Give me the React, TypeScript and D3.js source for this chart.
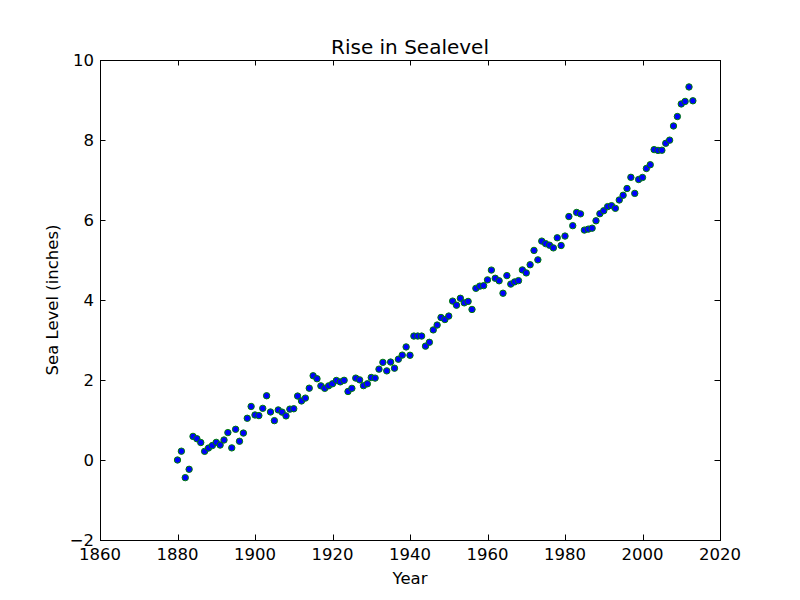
import React, { useEffect, useRef } from 'react';
import * as d3 from 'd3';

// CSIRO adjusted sea level, 1880-2013
const years = d3.range(1880, 2014);
const seaLevel = [
  0.0, 0.220472, -0.440945, -0.232283, 0.590551, 0.531496, 0.437008, 0.216535, 0.299213, 0.362205,
  0.440945, 0.374016, 0.5, 0.685039, 0.30315, 0.767717, 0.468504, 0.673228, 1.043307, 1.338583,
  1.125984, 1.110236, 1.291339, 1.606299, 1.200787, 0.984252, 1.251969, 1.19685, 1.102362, 1.271654,
  1.281496, 1.598425, 1.476378, 1.547244, 1.795276, 2.106299, 2.031496, 1.854331, 1.791339, 1.854331,
  1.905512, 1.988189, 1.952756, 1.992126, 1.712598, 1.791339, 2.047244, 2.003937, 1.858268, 1.905512,
  2.062992, 2.047244, 2.271654, 2.440945, 2.228346, 2.448819, 2.295276, 2.519685, 2.622047, 2.826772,
  2.61811, 3.098425, 3.098425, 3.098425, 2.846457, 2.942913, 3.251969, 3.374016, 3.562992, 3.511811,
  3.598425, 3.972441, 3.870079, 4.043307, 3.929134, 3.964567, 3.76378, 4.291339, 4.346457, 4.358268,
  4.503937, 4.748031, 4.543307, 4.480315, 4.169291, 4.610236, 4.397638, 4.452756, 4.484252, 4.751969,
  4.677165, 4.88189, 5.240157, 5.003937, 5.472441, 5.409449, 5.370079, 5.30315, 5.555118, 5.362205,
  5.598425, 6.086614, 5.858268, 6.188976, 6.153543, 5.748031, 5.771654, 5.795276, 5.980315, 6.15748,
  6.232283, 6.334646, 6.358268, 6.291339, 6.499999, 6.61811, 6.787401, 7.066929, 6.665354, 7.011811,
  7.062992, 7.287401, 7.381889, 7.759842, 7.740157, 7.744094, 7.917323, 7.996062, 8.350393, 8.586614,
  8.901575, 8.964567, 9.326772, 8.980315,
];
const xTicks = [1860, 1880, 1900, 1920, 1940, 1960, 1980, 2000, 2020];
const yTicks = [-2, 0, 2, 4, 6, 8, 10];

const font = 'DejaVu Sans, sans-serif';

const App = () => {
  const svgRef = useRef<SVGSVGElement>(null);

  useEffect(() => {
    const svg = d3.select(svgRef.current);
    svg.selectAll('*').remove();

    const width = 800;
    const height = 600;
    const left = 100, right = 720, top = 60, bottom = 540;

    const x = d3.scaleLinear().domain([1860, 2020]).range([left, right]);
    const y = d3.scaleLinear().domain([-2, 10]).range([bottom, top]);

    svg.append('rect').attr('width', width).attr('height', height).attr('fill', '#ffffff');

    // points
    svg.append('g')
      .selectAll('circle')
      .data(years.map((yr, i) => ({ yr, v: seaLevel[i] })))
      .enter()
      .append('circle')
      .attr('cx', d => x(d.yr))
      .attr('cy', d => y(d.v))
      .attr('r', 3.2)
      .attr('fill', '#0000ff')
      .attr('stroke', '#008000')
      .attr('stroke-width', 1);

    const tickLen = 5.5;
    const ticks = svg.append('g').attr('stroke', '#000').attr('stroke-width', 1);

    // x ticks, inside, bottom and top
    xTicks.forEach(t => {
      const px = Math.round(x(t)) + 0.5;
      ticks.append('line').attr('x1', px).attr('x2', px).attr('y1', bottom).attr('y2', bottom - tickLen);
      ticks.append('line').attr('x1', px).attr('x2', px).attr('y1', top).attr('y2', top + tickLen);
      svg.append('text')
        .attr('x', x(t))
        .attr('y', bottom + 19.5)
        .attr('text-anchor', 'middle')
        .style('font-family', font)
        .style('font-size', '16.5px')
        .text(t);
    });

    // y ticks, inside, left and right
    yTicks.forEach(t => {
      const py = Math.round(y(t)) + 0.5;
      ticks.append('line').attr('x1', left).attr('x2', left + tickLen).attr('y1', py).attr('y2', py);
      ticks.append('line').attr('x1', right).attr('x2', right - tickLen).attr('y1', py).attr('y2', py);
      svg.append('text')
        .attr('x', left - 6)
        .attr('y', y(t))
        .attr('dy', '0.34em')
        .attr('text-anchor', 'end')
        .style('font-family', font)
        .style('font-size', '16.5px')
        .text(t < 0 ? `\u2212${Math.abs(t)}` : t);
    });

    // frame
    svg.append('rect')
      .attr('x', left + 0.5)
      .attr('y', top + 0.5)
      .attr('width', right - left)
      .attr('height', bottom - top)
      .attr('fill', 'none')
      .attr('stroke', '#000')
      .attr('stroke-width', 1);

    svg.append('text')
      .attr('x', (left + right) / 2)
      .attr('y', 54)
      .attr('text-anchor', 'middle')
      .style('font-family', font)
      .style('font-size', '20px')
      .text('Rise in Sealevel');

    svg.append('text')
      .attr('x', (left + right) / 2)
      .attr('y', 584)
      .attr('text-anchor', 'middle')
      .style('font-family', font)
      .style('font-size', '16.5px')
      .text('Year');

    svg.append('text')
      .attr('transform', `translate(58, ${(top + bottom) / 2}) rotate(-90)`)
      .attr('text-anchor', 'middle')
      .style('font-family', font)
      .style('font-size', '16.5px')
      .text('Sea Level (inches)');
  }, []);

  return (
    <svg
      ref={svgRef}
      width={800}
      height={600}
      style={{ position: 'absolute', left: 0, top: 0, display: 'block' }}
    />
  );
};

export default App;
